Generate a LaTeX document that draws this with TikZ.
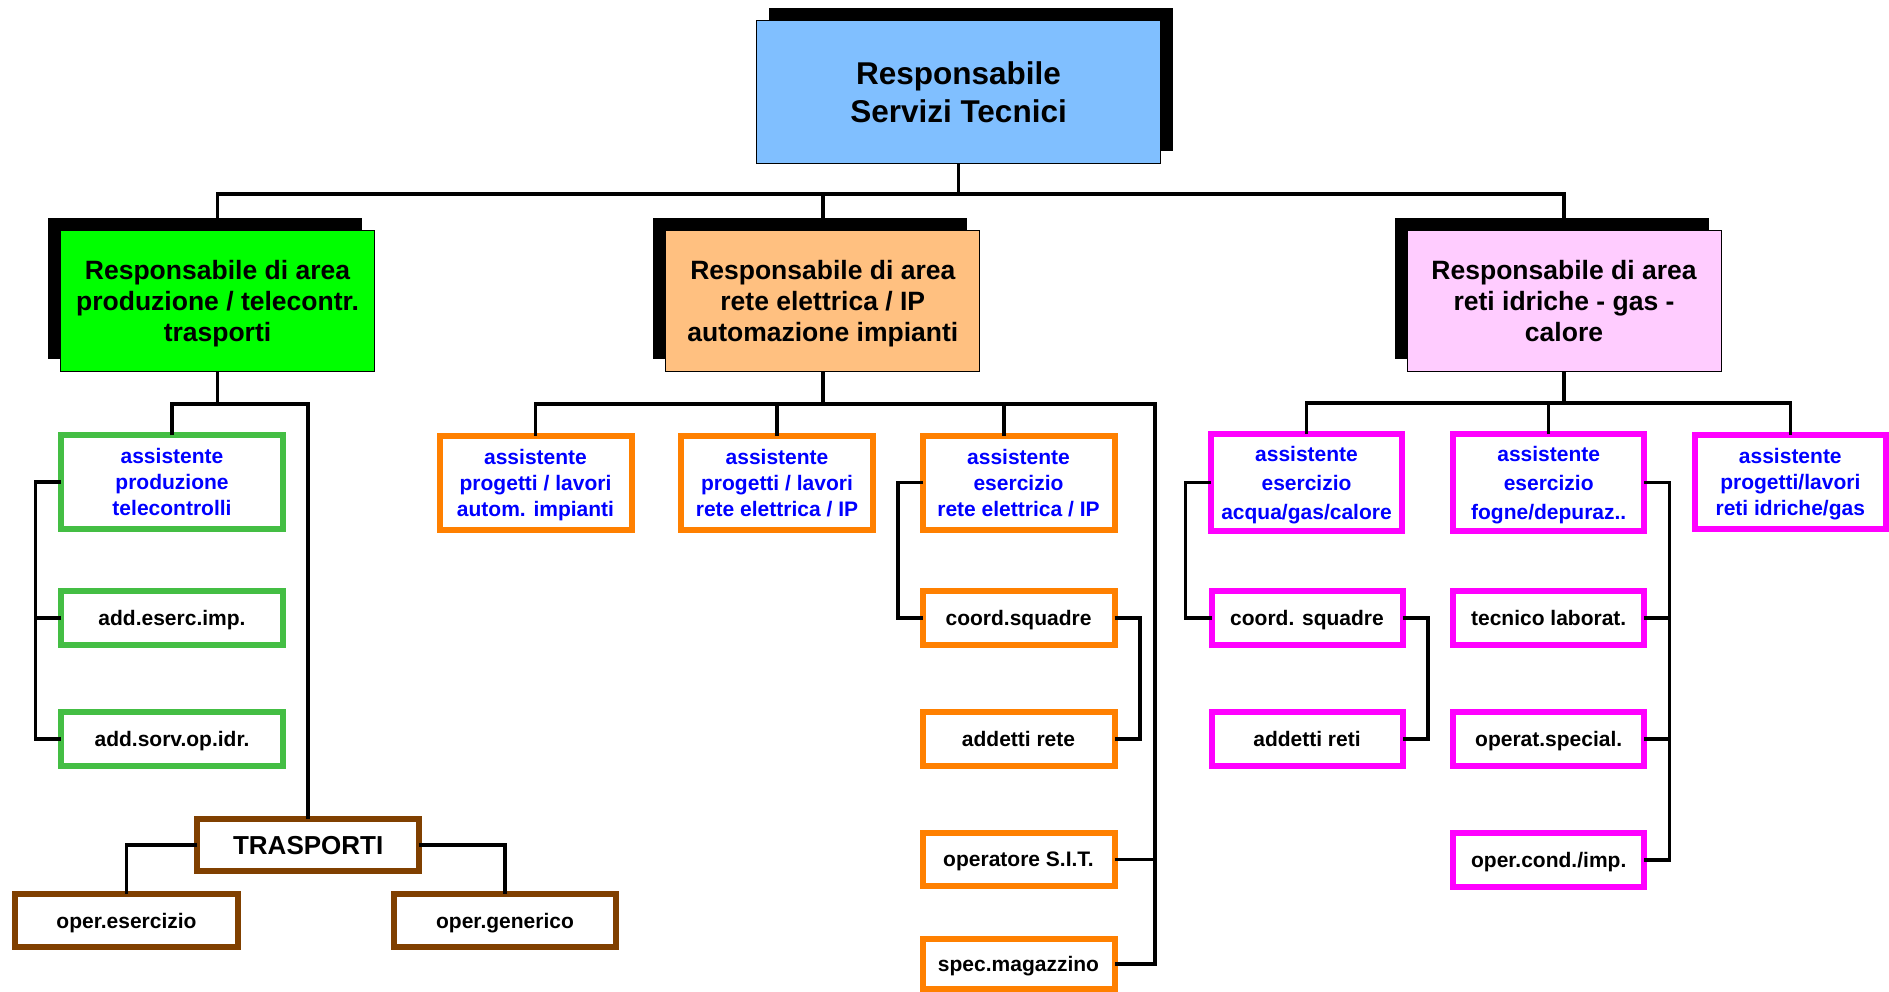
\documentclass[tikz,border=0pt]{standalone}
\usepackage{fontspec}
\setmainfont{Liberation Sans}
\usetikzlibrary{shadows}
\definecolor{topblue}{RGB}{128,191,255}
\definecolor{lgreen}{RGB}{0,255,0}
\definecolor{lorange}{RGB}{255,192,128}
\definecolor{lpink}{RGB}{255,204,255}
\definecolor{grn}{RGB}{68,190,68}
\definecolor{org}{RGB}{255,128,0}
\definecolor{mag}{RGB}{255,0,255}
\definecolor{brn}{RGB}{128,64,0}
\definecolor{txtblue}{RGB}{0,0,255}
\begin{document}
\begin{tikzpicture}[x=1pt,y=-1pt,
  conn/.style={line width=3.5pt, line join=miter},
  headbox/.style={draw=black, line width=1pt, inner sep=0pt, outer sep=0pt, align=center,
    minimum width=314pt, minimum height=141pt, text depth=0pt,
    font=\bfseries\fontsize{26.5}{31}\selectfont,
    general shadow={fill=black, shadow xshift=-12.5pt, shadow yshift=12.5pt}},
  lvthree/.style={draw, fill=white, line width=6pt, inner sep=0pt, outer sep=0pt, align=center,
    text depth=0pt, font=\bfseries\fontsize{21}{26}\selectfont},
  gbox/.style={lvthree, draw=grn, minimum width=222pt},
  obox/.style={lvthree, draw=org, minimum width=192pt},
  pbox/.style={lvthree, draw=mag, minimum width=191pt},
  bbox/.style={lvthree, draw=brn, minimum width=222pt},
  threeln/.style={minimum height=94pt, text=txtblue},
  oneln/.style={minimum height=54pt},
]
\useasboundingbox (0,0) rectangle (1889,992);
\clip (0,0) rectangle (1889,992);

% top
\node[draw=black, fill=topblue, line width=1pt, inner sep=0pt, outer sep=0pt, align=center,
  minimum width=404pt, minimum height=143pt, text depth=0pt,
  font=\bfseries\fontsize{31.5}{38}\selectfont,
  general shadow={fill=black, shadow xshift=12.5pt, shadow yshift=12.5pt}]
  (top) at (958.5,92) {Responsabile\\Servizi Tecnici};

% level 2
\node[headbox, fill=lgreen] (g2) at (217.5,301) {Responsabile di area\\produzione / telecontr.\\trasporti};
\node[headbox, fill=lorange] (o2) at (822.8,301) {Responsabile di area\\rete elettrica / IP\\automazione impianti};
\node[headbox, fill=lpink] (p2) at (1564,301) {Responsabile di area\\reti idriche - gas -\\calore};

% green branch
\node[gbox, threeln] (ga) at (172,482) {assistente\\produzione\\telecontrolli};
\node[gbox, oneln] (gb) at (172,618) {add.eserc.imp.};
\node[gbox, oneln] (gc) at (172,739) {add.sorv.op.idr.};
\node[bbox, minimum height=52pt, font=\bfseries\fontsize{26}{30}\selectfont] (tr) at (308.2,845) {TRASPORTI};
\node[bbox, oneln, minimum width=223pt, minimum height=53pt] (t1) at (126.5,920.5) {oper.esercizio};
\node[bbox, oneln, minimum height=53pt] (t2) at (505,920.5) {oper.generico};

% orange branch
\node[obox, threeln] (oa) at (535.5,482.5) {assistente\\progetti / lavori\\autom. impianti};
\node[obox, threeln] (ob) at (777,482.5) {assistente\\progetti / lavori\\rete elettrica / IP};
\node[obox, threeln] (oc) at (1018.5,482.5) {assistente\\esercizio\\rete elettrica / IP};
\node[obox, oneln] (od) at (1018.5,618) {coord.squadre};
\node[obox, oneln] (oe) at (1018.5,739) {addetti rete};
\node[obox, oneln, minimum height=53pt] (of) at (1018.5,859.5) {operatore S.I.T.};
\node[obox, oneln, minimum height=50pt] (og) at (1018.5,964) {spec.magazzino};

% pink branch
\node[pbox, threeln, minimum height=97pt, font=\bfseries\fontsize{21}{29}\selectfont] (pa) at (1306.5,482.5) {assistente\\esercizio\\acqua/gas/calore};
\node[pbox, threeln, minimum height=97pt, font=\bfseries\fontsize{21}{29}\selectfont] (pb) at (1548.7,482.5) {assistente\\esercizio\\fogne/depuraz..};
\node[pbox, threeln] (pc) at (1790.3,482) {assistente\\progetti/lavori\\reti idriche/gas};
\node[pbox, oneln] (pd) at (1307,618) {coord. squadre};
\node[pbox, oneln] (pe) at (1307,739) {addetti reti};
\node[pbox, oneln] (pf) at (1548.7,618) {tecnico laborat.};
\node[pbox, oneln] (pg) at (1548.7,739) {operat.special.};
\node[pbox, oneln] (ph) at (1548.7,860) {oper.cond./imp.};

% helper coordinates
\coordinate (bus1) at (0,194);
\coordinate (gbus) at (0,404);
\coordinate (gl) at (35.5,0);
\coordinate (ort) at (1155,404);
\coordinate (ocx) at (1004,404);
\coordinate (ol) at (898,0);
\coordinate (orb) at (1140,0);
\coordinate (pbus) at (0,403);
\coordinate (pl) at (1185.4,0);
\coordinate (prb) at (1428,0);
\coordinate (pr) at (1669.6,0);

% level 1 connectors
\draw[conn] (top.south) -- (top.south |- bus1);
\draw[conn] (g2.north) |- (p2.north |- bus1) -- (p2.north);
\draw[conn] (o2.north) -- (o2.north |- bus1);

% green connectors
\draw[conn] (g2.south) -- (g2.south |- gbus);
\draw[conn] (ga.north) |- (tr.north |- gbus) -- (tr.north);
\draw[conn] (ga.west) -| (gl |- gc.west) -- (gc.west);
\draw[conn] (gb.west) -- (gl |- gb.west);
\draw[conn] (tr.west) -| (t1.north);
\draw[conn] (tr.east) -| (t2.north);

% orange connectors
\draw[conn] (o2.south) -- (o2.south |- ort);
\draw[conn] (oa.north) |- (ort) |- (og.east);
\draw[conn] (ob.north) -- (ob.north |- ort);
\draw[conn] (ocx) -- (ocx |- oc.north);
\draw[conn] (of.east) -- (ort |- of.east);
\draw[conn] (oc.west) -| (ol |- od.west) -- (od.west);
\draw[conn] (od.east) -| (orb |- oe.east) -- (oe.east);

% pink connectors
\draw[conn] (p2.south) -- (p2.south |- pbus);
\draw[conn] (pa.north) |- (pc.north |- pbus) -- (pc.north);
\draw[conn] (pb.north) -- (pb.north |- pbus);
\draw[conn] (pa.west) -| (pl |- pd.west) -- (pd.west);
\draw[conn] (pd.east) -| (prb |- pe.east) -- (pe.east);
\draw[conn] (pb.east) -| (pr |- ph.east) -- (ph.east);
\draw[conn] (pf.east) -- (pr |- pf.east);
\draw[conn] (pg.east) -- (pr |- pg.east);
\end{tikzpicture}
\end{document}
